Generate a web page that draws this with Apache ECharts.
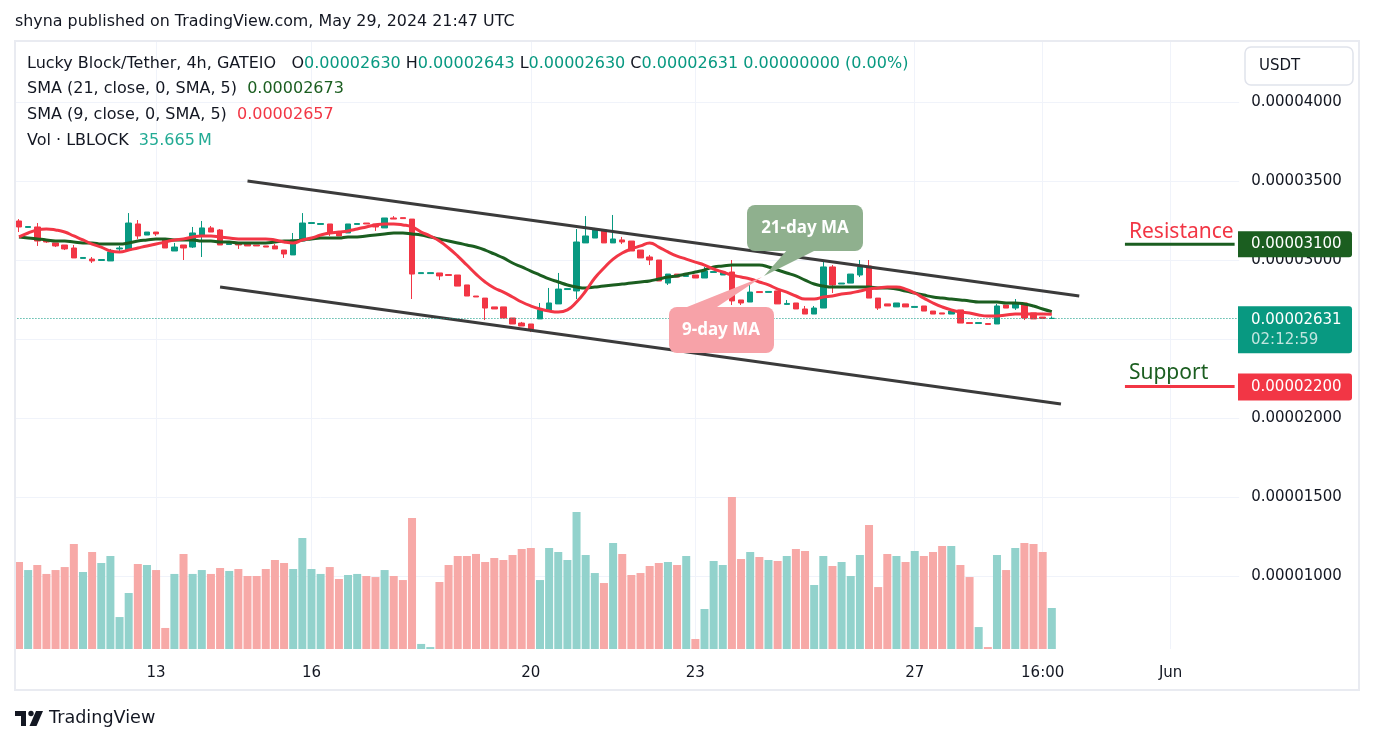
<!DOCTYPE html>
<html>
<head>
<meta charset="utf-8">
<script src="https://cdn.jsdelivr.net/npm/echarts@6/dist/echarts.min.js"></script>
<style>
  html, body { margin: 0; padding: 0; background: #fff; }
  #chart { width: 1374px; height: 744px; }
</style>
</head>
<body>
<div id="chart"></div>
<script>
// all prices are in units of 1e-8 USDT (0.00002631 -> 2631)

// 4h candles: [open, close, low, high]
const ohlc = [
  [3247, 3209, 3177, 3259], [3206, 3212, 3203, 3215], [3209, 3120, 3089, 3234], [3127, 3114, 3108, 3127],
  [3108, 3089, 3082, 3108], [3095, 3070, 3063, 3095], [3076, 3013, 3013, 3095], [3010, 3016, 3010, 3016],
  [3006, 2994, 2981, 3019], [2997, 3003, 2997, 3003], [2994, 3051, 2994, 3070], [3070, 3076, 3057, 3089],
  [3063, 3234, 3063, 3297], [3228, 3152, 3133, 3253], [3158, 3177, 3158, 3177], [3177, 3165, 3152, 3177],
  [3127, 3076, 3076, 3127], [3057, 3082, 3057, 3108], [3095, 3076, 3000, 3095], [3082, 3171, 3076, 3209],
  [3158, 3203, 3019, 3247], [3203, 3177, 3177, 3215], [3190, 3095, 3095, 3196], [3098, 3104, 3098, 3104],
  [3108, 3095, 3070, 3108], [3101, 3089, 3089, 3101], [3095, 3089, 3089, 3095], [3089, 3082, 3082, 3089],
  [3089, 3070, 3070, 3101], [3063, 3038, 3013, 3063], [3032, 3127, 3032, 3171], [3120, 3234, 3120, 3297],
  [3231, 3237, 3231, 3237], [3225, 3231, 3225, 3231], [3228, 3171, 3152, 3228], [3177, 3152, 3152, 3177],
  [3171, 3228, 3171, 3228], [3225, 3231, 3225, 3231], [3234, 3228, 3228, 3234], [3228, 3209, 3184, 3228],
  [3203, 3266, 3203, 3266], [3266, 3259, 3259, 3278], [3268, 3262, 3262, 3268], [3259, 2911, 2753, 3259],
  [2914, 2920, 2914, 2920], [2914, 2920, 2914, 2920], [2918, 2899, 2873, 2918], [2908, 2902, 2902, 2908],
  [2905, 2835, 2835, 2905], [2842, 2772, 2772, 2842], [2772, 2766, 2766, 2772], [2759, 2696, 2620, 2759],
  [2703, 2690, 2690, 2703], [2703, 2633, 2633, 2703], [2633, 2595, 2595, 2633], [2601, 2582, 2582, 2608],
  [2595, 2563, 2544, 2595], [2627, 2684, 2627, 2728], [2677, 2728, 2677, 2823], [2722, 2816, 2722, 2918],
  [2813, 2819, 2813, 2819], [2804, 3114, 2753, 3196], [3108, 3152, 3108, 3278], [3139, 3190, 3139, 3203],
  [3190, 3108, 3108, 3190], [3108, 3133, 3108, 3285], [3127, 3114, 3101, 3146], [3120, 3057, 3057, 3120],
  [3063, 3013, 3013, 3063], [3019, 3000, 2968, 3032], [3000, 2867, 2867, 3000], [2854, 2911, 2842, 2911],
  [2911, 2892, 2892, 2911], [2896, 2902, 2896, 2902], [2905, 2886, 2886, 2905], [2886, 2930, 2886, 2956],
  [2921, 2927, 2921, 2927], [2905, 2924, 2905, 2924], [2924, 2741, 2715, 3000], [2747, 2728, 2715, 2747],
  [2734, 2797, 2734, 2848], [2800, 2794, 2794, 2800], [2795, 2801, 2795, 2801], [2804, 2722, 2722, 2804],
  [2719, 2725, 2719, 2747], [2728, 2690, 2690, 2728], [2690, 2658, 2658, 2709], [2658, 2696, 2658, 2709],
  [2696, 2956, 2696, 3000], [2956, 2842, 2791, 2968], [2848, 2854, 2848, 2854], [2854, 2911, 2854, 2911],
  [2905, 2956, 2892, 3000], [2962, 2759, 2759, 3000], [2759, 2696, 2684, 2759], [2722, 2709, 2709, 2722],
  [2703, 2728, 2703, 2728], [2722, 2703, 2703, 2722], [2700, 2706, 2700, 2706], [2709, 2677, 2677, 2709],
  [2677, 2658, 2658, 2677], [2665, 2658, 2658, 2665], [2658, 2677, 2658, 2677], [2684, 2601, 2601, 2684],
  [2604, 2598, 2598, 2604], [2598, 2604, 2598, 2604], [2598, 2592, 2592, 2598], [2595, 2709, 2595, 2722],
  [2715, 2696, 2696, 2715], [2696, 2728, 2684, 2753], [2728, 2633, 2620, 2728], [2665, 2627, 2627, 2665],
  [2639, 2630, 2630, 2639], [2630, 2631, 2630, 2643]
];

// volume, millions of LBLOCK
const volumeM = [
  75.7, 68.7, 73.1, 65.3, 68.7, 71.3, 91.4, 67.0, 84.4, 74.8,
  80.9, 27.8, 48.7, 74.0, 73.1, 68.7, 18.3, 65.3, 82.7, 65.3,
  68.7, 65.3, 70.5, 67.9, 69.6, 63.5, 63.5, 69.6, 77.4, 74.8,
  69.6, 96.6, 69.6, 65.3, 71.3, 60.9, 64.4, 65.3, 63.5, 62.6,
  68.7, 63.5, 60.0, 114.0, 4.4, 1.7, 58.3, 73.1, 80.9, 80.9,
  82.7, 75.7, 79.2, 77.4, 81.8, 87.0, 87.9, 60.0, 87.9, 84.4,
  77.4, 119.2, 81.8, 66.1, 57.4, 92.2, 82.7, 64.4, 66.1, 72.2,
  74.8, 75.7, 73.1, 80.9, 8.7, 34.8, 76.6, 73.1, 132.2, 78.3,
  84.4, 80.0, 77.4, 76.6, 80.9, 87.0, 85.3, 55.7, 80.9, 72.2,
  75.7, 63.5, 81.8, 107.9, 53.9, 82.7, 80.9, 75.7, 85.3, 80.9,
  84.4, 89.6, 89.6, 73.1, 62.6, 19.1, 1.7, 81.8, 68.7, 87.9,
  92.2, 91.4, 84.4, 35.665
];

// SMA (9) and SMA (21) as drawn
const sma9 = [
  3146, 3171, 3190, 3196, 3190, 3177, 3152, 3127, 3101, 3082,
  3057, 3051, 3063, 3076, 3089, 3101, 3114, 3127, 3133, 3146,
  3152, 3152, 3146, 3139, 3133, 3133, 3133, 3133, 3127, 3114,
  3108, 3127, 3139, 3158, 3171, 3177, 3184, 3196, 3209, 3222,
  3228, 3228, 3222, 3209, 3177, 3152, 3120, 3076, 3025, 2968,
  2911, 2861, 2823, 2797, 2766, 2734, 2709, 2690, 2677, 2671,
  2684, 2734, 2804, 2886, 2949, 3006, 3044, 3070, 3089, 3108,
  3082, 3051, 3025, 3006, 2987, 2968, 2943, 2924, 2905, 2892,
  2880, 2861, 2842, 2816, 2797, 2772, 2753, 2753, 2766, 2772,
  2785, 2791, 2804, 2816, 2823, 2829, 2829, 2816, 2791, 2759,
  2728, 2703, 2684, 2671, 2665, 2652, 2646, 2646, 2652, 2658,
  2658, 2658, 2658, 2657
];
const sma21 = [
  3146, 3139, 3133, 3127, 3120, 3120, 3114, 3108, 3108, 3101,
  3101, 3101, 3108, 3120, 3127, 3133, 3133, 3127, 3127, 3127,
  3120, 3120, 3114, 3114, 3108, 3108, 3108, 3108, 3114, 3120,
  3120, 3127, 3133, 3139, 3139, 3139, 3146, 3146, 3152, 3158,
  3165, 3171, 3171, 3165, 3158, 3146, 3133, 3120, 3108, 3095,
  3082, 3063, 3038, 3013, 2981, 2956, 2930, 2905, 2880, 2861,
  2842, 2829, 2823, 2829, 2835, 2842, 2848, 2854, 2861, 2867,
  2880, 2892, 2899, 2911, 2924, 2937, 2956, 2962, 2968, 2968,
  2968, 2968, 2956, 2937, 2918, 2899, 2873, 2848, 2835, 2829,
  2829, 2829, 2829, 2829, 2823, 2823, 2816, 2804, 2791, 2778,
  2766, 2759, 2753, 2747, 2741, 2734, 2734, 2734, 2728, 2728,
  2722, 2709, 2690, 2673
];

// drawn channel, [bar index, price]
const channelTop = [[25, 3500], [116, 2772]];
const channelBottom = [[22, 2829], [114, 2089]];
const resistance = 3100;
const support = 2200;

// time axis
const tickIndex = [15, 32, 56, 74, 98, 112, 126];
const tickLabels = ['13', '16', '20', '23', '27', '16:00', 'Jun'];

// legend values
const legendOHLC = ['0.00002630', '0.00002643', '0.00002630', '0.00002631'];
const legendChange = '0.00000000 (0.00%)';
const legendSma21 = '0.00002673';
const legendSma9 = '0.00002657';
const legendVol = '35.665\u2009M';
const countdown = '02:12:59';

const FONT = 'DejaVu Sans';
const INK = '#131722';
const TEAL = '#089981';
const RED = '#f23645';
const GREEN = '#1b5e20';
const GRIDC = '#f0f3fa';

const SLOTS = 134;
const STEP = 9.14;
const GRID_LEFT = 19 - STEP / 2;
const GRID_W = SLOTS * STEP;
const slots = [];
for (let i = 0; i < SLOTS; i++) slots.push(String(i));

const lastClose = ohlc[ohlc.length - 1][1];
const fmtPrice = v => (v / 1e8).toFixed(8);

var chart = echarts.init(document.getElementById('chart'));

var option = {
  animation: false,
  backgroundColor: '#ffffff',
  grid: [
    { left: GRID_LEFT, top: 23, width: GRID_W, height: 632 },
    { left: GRID_LEFT, top: 41, width: GRID_W, height: 608 },
    { left: 19, top: 41, width: STEP * (SLOTS - 1), height: 608 }
  ],
  xAxis: [
    { type: 'category', gridIndex: 0, data: slots, boundaryGap: true, show: false },
    { type: 'category', gridIndex: 1, data: slots, boundaryGap: true, show: false },
    {
      type: 'category', gridIndex: 2, data: slots, boundaryGap: false,
      axisLine: { show: false },
      axisTick: { show: false },
      axisLabel: {
        interval: (i) => tickIndex.indexOf(i) >= 0,
        formatter: (v, i) => tickLabels[tickIndex.indexOf(i)] || '',
        color: INK, fontFamily: FONT, fontSize: 15, margin: 17
      },
      splitLine: {
        show: true,
        interval: (i) => tickIndex.indexOf(i) >= 0,
        lineStyle: { color: GRIDC, width: 1 }
      }
    }
  ],
  yAxis: [
    {
      type: 'value', gridIndex: 0, position: 'right',
      min: 500, max: 4500, interval: 500,
      axisLine: { show: false },
      axisTick: { show: false },
      axisLabel: {
        color: INK, fontFamily: FONT, fontSize: 15, margin: 12,
        showMinLabel: false, showMaxLabel: false,
        formatter: fmtPrice
      },
      splitLine: { lineStyle: { color: GRIDC, width: 1 }, showMinLine: false, showMaxLine: false }
    },
    { type: 'value', gridIndex: 1, min: 0, max: 529, show: false },
    { type: 'value', gridIndex: 2, show: false }
  ],
  series: [
    {
      name: 'Vol',
      type: 'bar',
      xAxisIndex: 1, yAxisIndex: 1,
      barWidth: 8,
      silent: true,
      data: volumeM.map((v, i) => ({
        value: v,
        itemStyle: { color: ohlc[i][1] >= ohlc[i][0] ? '#92d2cc' : '#f7a9a7' }
      }))
    },
    {
      name: 'LBLOCK/USDT',
      type: 'candlestick',
      xAxisIndex: 0, yAxisIndex: 0,
      barWidth: 6,
      silent: true,
      itemStyle: { color: TEAL, color0: RED, borderColor: TEAL, borderColor0: RED, borderWidth: 1 },
      data: ohlc,
      markLine: {
        silent: true,
        symbol: 'none',
        label: { show: false },
        lineStyle: { color: TEAL, type: [1, 2], width: 1 },
        data: [{ yAxis: lastClose }]
      }
    },
    {
      name: 'SMA 21',
      type: 'line',
      xAxisIndex: 0, yAxisIndex: 0,
      data: sma21,
      smooth: true,
      showSymbol: false,
      silent: true,
      lineStyle: { color: GREEN, width: 3 },
      z: 3
    },
    {
      name: 'SMA 9',
      type: 'line',
      xAxisIndex: 0, yAxisIndex: 0,
      data: sma9,
      smooth: true,
      showSymbol: false,
      silent: true,
      lineStyle: { color: RED, width: 3 },
      z: 3
    },
    {
      type: 'line', xAxisIndex: 0, yAxisIndex: 0, data: channelTop,
      showSymbol: false, silent: true, lineStyle: { color: '#3b3b3b', width: 3 }, z: 4
    },
    {
      type: 'line', xAxisIndex: 0, yAxisIndex: 0, data: channelBottom,
      showSymbol: false, silent: true, lineStyle: { color: '#3b3b3b', width: 3 }, z: 4
    },
    {
      type: 'line', xAxisIndex: 0, yAxisIndex: 0, data: [[121, resistance], [133, resistance]],
      showSymbol: false, silent: true, lineStyle: { color: GREEN, width: 3 }, z: 4
    },
    {
      type: 'line', xAxisIndex: 0, yAxisIndex: 0, data: [[121, support], [133, support]],
      showSymbol: false, silent: true, lineStyle: { color: RED, width: 3 }, z: 4
    }
  ]
};

chart.setOption(option);

// overlays positioned through the price scale
const py = v => chart.convertToPixel({ yAxisIndex: 0 }, v);
const px = i => chart.convertToPixel({ xAxisIndex: 0 }, i);

const yRes = py(resistance);
const ySup = py(support);
const yLast = py(lastClose);
const xLineStart = px(121);

function tag(y, h, fill) {
  return { type: 'rect', shape: { x: 1238, y: y, width: 114, height: h, r: [0, 3, 3, 0] }, style: { fill: fill }, z: 100 };
}
function txt(x, y, text, size, fill, extra) {
  return {
    type: 'text', z: 101,
    style: Object.assign({ x: x, y: y, text: text, fill: fill, fontFamily: FONT, fontSize: size, verticalAlign: 'middle' }, extra || {})
  };
}

const rich = {
  k: { fill: INK, fontFamily: FONT, fontSize: 16 },
  g: { fill: TEAL, fontFamily: FONT, fontSize: 16 },
  d: { fill: GREEN, fontFamily: FONT, fontSize: 16 },
  r: { fill: RED, fontFamily: FONT, fontSize: 16 },
  v: { fill: '#22ab94', fontFamily: FONT, fontSize: 16 }
};
function legendLine(y, text) {
  return { type: 'text', z: 101, style: { x: 27, y: y, text: text, rich: rich, fontFamily: FONT, fontSize: 16, verticalAlign: 'middle', fill: INK } };
}

chart.setOption({
  graphic: [
    // pane frame
    { type: 'rect', shape: { x: 15, y: 41, width: 1344, height: 649 }, style: { fill: 'none', stroke: '#e9ebf1', lineWidth: 2 }, z: 90 },
    txt(15, 22, 'shyna published on TradingView.com, May 29, 2024 21:47 UTC', 15.9, INK),
    legendLine(64, '{k|Lucky Block/Tether, 4h, GATEIO}   {k|O}{g|' + legendOHLC[0] + '} {k|H}{g|' + legendOHLC[1] +
      '} {k|L}{g|' + legendOHLC[2] + '} {k|C}{g|' + legendOHLC[3] + '} {g|' + legendChange + '}'),
    legendLine(89, '{k|SMA (21, close, 0, SMA, 5)}  {d|' + legendSma21 + '}'),
    legendLine(115, '{k|SMA (9, close, 0, SMA, 5)}  {r|' + legendSma9 + '}'),
    legendLine(141, '{k|Vol \u00b7 LBLOCK}  {v|' + legendVol + '}'),

    // currency button
    { type: 'rect', shape: { x: 1245, y: 47, width: 108, height: 38, r: 6 }, style: { fill: '#fff', stroke: '#e0e3eb', lineWidth: 1.5 }, z: 100 },
    txt(1259, 66, 'USDT', 15, INK),

    // price tags
    tag(yRes - 13, 26, GREEN),
    txt(1251, yRes, fmtPrice(resistance), 15, '#ffffff'),
    tag(yLast - 12, 47, TEAL),
    txt(1251, yLast + 2, fmtPrice(lastClose), 15, '#ffffff'),
    txt(1251, yLast + 22, countdown, 15, 'rgba(255,255,255,0.75)'),
    tag(ySup - 13, 27, RED),
    txt(1251, ySup + 1, fmtPrice(support), 15, '#ffffff'),

    // level captions
    txt(xLineStart + 4, yRes - 12, 'Resistance', 21, RED, { fontFamily: 'Noto Sans' }),
    txt(xLineStart + 4, ySup - 13, 'Support', 21, GREEN, { fontFamily: 'Noto Sans' }),

    // callouts
    { type: 'polygon', shape: { points: [[788, 249], [818, 249], [764, 276]] }, style: { fill: '#8fb08e' }, z: 100 },
    { type: 'rect', shape: { x: 747, y: 205, width: 116, height: 46, r: 8 }, style: { fill: '#8fb08e' }, z: 100 },
    txt(805, 228, '21-day MA', 17, '#ffffff', { fontFamily: 'Noto Sans', fontWeight: 'bold', align: 'center' }),
    { type: 'polygon', shape: { points: [[682, 309], [714, 309], [762, 277]] }, style: { fill: '#f7a2a8' }, z: 100 },
    { type: 'rect', shape: { x: 669, y: 307, width: 105, height: 46, r: 8 }, style: { fill: '#f7a2a8' }, z: 100 },
    txt(721, 330, '9-day MA', 17, '#ffffff', { fontFamily: 'Noto Sans', fontWeight: 'bold', align: 'center' }),

    // footer logo
    { type: 'rect', shape: { x: 15, y: 711, width: 11, height: 5 }, style: { fill: INK }, z: 100 },
    { type: 'rect', shape: { x: 21, y: 711, width: 5, height: 15 }, style: { fill: INK }, z: 100 },
    { type: 'circle', shape: { cx: 31, cy: 713.5, r: 2.7 }, style: { fill: INK }, z: 100 },
    { type: 'polygon', shape: { points: [[36, 711], [43, 711], [36.5, 726], [29.5, 726]] }, style: { fill: INK }, z: 100 },
    txt(49, 718, 'TradingView', 17.6, INK)
  ]
});
</script>
</body>
</html>
